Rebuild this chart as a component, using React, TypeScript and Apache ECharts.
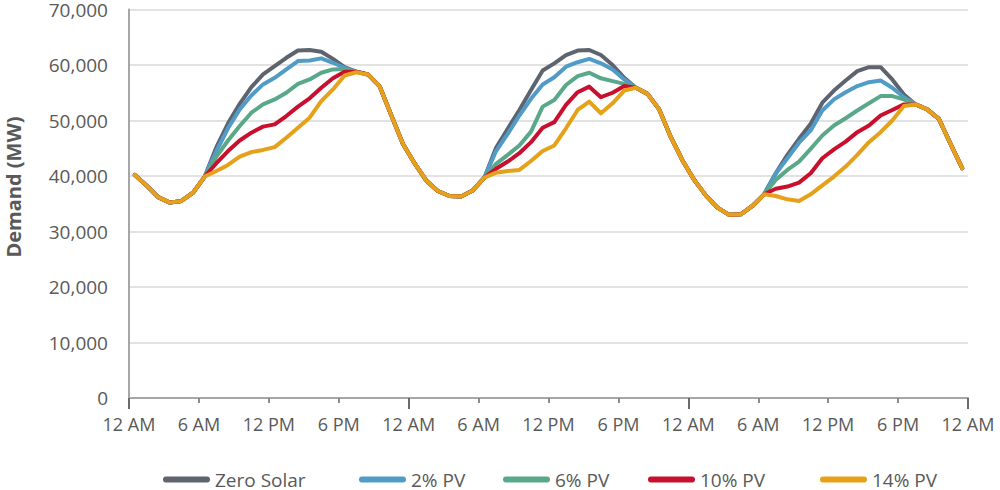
import React, { useEffect, useRef } from "react";
import * as echarts from "echarts";

// hourly demand (MW), three days, one value per hour (plotted at mid-hour)
const tickLabels = ["12 AM", "6 AM", "12 PM", "6 PM"];
const seriesNames = ["Zero Solar", "2% PV", "6% PV", "10% PV", "14% PV"];

const zeroSolar = [
  40200, 38300, 36200, 35200, 35500, 37000, 39900,
  45200, 49500, 53000, 56000, 58300, 59800, 61300, 62600, 62700, 62400,
  61100, 59600,
  58800, 58300, 56200, 51000, 45800, 42300, 39200, 37300, 36400, 36300, 37400, 39700,
  45100, 48500, 51900, 55500, 59000, 60300, 61800, 62600, 62700, 61800, 60000, 57700, 55900,
  54800, 52000, 47000, 42800,
  39300, 36500, 34300, 33000, 33100, 34600, 36700,
  40500, 43800, 46700, 49400, 53200, 55400, 57200, 58900, 59600, 59600, 57400, 54700,
  52900, 52000, 50300, 45800, 41400,
];
const pv2 = [
  40200, 38300, 36200, 35200, 35500, 37000, 39900,
  44500, 48600, 52000, 54500, 56500, 57700, 59200, 60700, 60800, 61200,
  60400, 59500,
  58800, 58300, 56200, 51000, 45800, 42300, 39200, 37300, 36400, 36300, 37400, 39700,
  44500, 47600, 50900, 53900, 56500, 57800, 59700, 60500, 61100, 60300, 59200, 57400, 55900,
  54800, 52000, 47000, 42800,
  39300, 36500, 34300, 33000, 33100, 34600, 36700,
  40400, 43200, 46000, 48200, 51800, 53800, 55100, 56200, 56900, 57200, 55900, 54200,
  52900, 52000, 50300, 45800, 41400,
];
const pv6 = [
  40200, 38300, 36200, 35200, 35500, 37000, 39900,
  43500, 46400, 49000, 51400, 52900, 53800, 55000, 56600, 57400, 58600,
  59200, 59300,
  58800, 58300, 56200, 51000, 45800, 42300, 39200, 37300, 36400, 36300, 37400, 39700,
  42200, 43800, 45500, 48000, 52500, 53700, 56400, 58000, 58600, 57600, 57100, 56600, 55900,
  54800, 52000, 47000, 42800,
  39300, 36500, 34300, 33000, 33100, 34600, 36700,
  39300, 41100, 42600, 44900, 47300, 49100, 50400, 51800, 53100, 54400, 54400, 53800,
  52900, 52000, 50300, 45800, 41400,
];
const pv10 = [
  40200, 38300, 36200, 35200, 35500, 37000, 39900,
  42300, 44500, 46400, 47800, 48900, 49300, 50800, 52500, 54000, 55900,
  57600, 58800,
  58800, 58300, 56200, 51000, 45800, 42300, 39200, 37300, 36400, 36300, 37400, 39700,
  41300, 42600, 44100, 46100, 48700, 49700, 52800, 55100, 56100, 54200, 55000, 56200, 55900,
  54800, 52000, 47000, 42800,
  39300, 36500, 34300, 33000, 33100, 34600, 36700,
  37700, 38100, 38800, 40500, 43200, 44800, 46200, 47900, 49100, 50900, 51900, 52900,
  52900, 52000, 50300, 45800, 41400,
];
const pv14 = [
  40200, 38300, 36200, 35200, 35500, 37000, 39900,
  40900, 42000, 43500, 44300, 44700, 45200, 46900, 48700, 50500, 53500,
  55600, 58100,
  58700, 58300, 56200, 51000, 45800, 42300, 39200, 37300, 36400, 36300, 37400, 39700,
  40600, 40900, 41100, 42700, 44500, 45500, 48600, 51900, 53400, 51300, 53100, 55400, 55900,
  54800, 52000, 47000, 42800,
  39300, 36500, 34300, 33000, 33100, 34600, 36700,
  36400, 35800, 35500, 36700, 38300, 39900, 41700, 43800, 46100, 47900, 50000, 52600,
  52900, 52000, 50300, 45800, 41400,
];

const seriesData = [zeroSolar, pv2, pv6, pv10, pv14];
const colors = ["#5d646f", "#519bc8", "#5aa88a", "#c8102e", "#e5a11a"];
const legendLeft = [163, 359, 503, 648, 820];

const FONT = "'Open Sans', sans-serif";
const TEXT = "#595959";

export default function App() {
  const ref = useRef<HTMLDivElement>(null);

  useEffect(() => {
    if (!ref.current) return;
    const chart = echarts.init(ref.current, null, { renderer: "svg" });

    chart.setOption({
      animation: false,
      backgroundColor: "#ffffff",
      grid: { left: 129, right: 32, top: 6, bottom: 92 },
      xAxis: [
        {
          type: "value",
          min: 0,
          max: 72,
          interval: 6,
          position: "bottom",
          axisLine: { show: true, lineStyle: { color: "#a6a6a6", width: 2 } },
          axisTick: { show: true, length: 5, lineStyle: { color: "#8c8c8c", width: 2 } },
          axisLabel: {
            margin: 17,
            color: TEXT,
            fontFamily: FONT,
            fontSize: 18,
            formatter: (v: number) => tickLabels[Math.round(v / 6) % 4],
          },
          splitLine: { show: false },
        },
        // longer ticks at midnight
        {
          type: "value",
          min: 0,
          max: 72,
          interval: 24,
          position: "bottom",
          axisLine: { show: false },
          axisTick: { show: true, length: 11, lineStyle: { color: "#6b6b6b", width: 2 } },
          axisLabel: { show: false },
          splitLine: { show: false },
        },
      ],
      yAxis: {
        type: "value",
        min: 0,
        max: 70000,
        interval: 10000,
        axisLine: { show: true, lineStyle: { color: "#a6a6a6", width: 2 } },
        axisTick: { show: false },
        axisLabel: {
          margin: 21,
          color: TEXT,
          fontFamily: FONT,
          fontSize: 19,
          lineHeight: 19,
          formatter: (v: number) => v.toLocaleString("en-US"),
        },
        splitLine: { lineStyle: { color: "#d9d9d9", width: 1.5 } },
      },
      legend: seriesNames.map((name, i) => ({
        data: [name],
        left: legendLeft[i],
        top: 470,
        padding: 0,
        selectedMode: false,
        itemWidth: 47,
        itemHeight: 6,
        icon: "path://M3,0H45A3,3,0,0,1,45,6H3A3,3,0,0,1,3,0Z",
        itemStyle: { borderWidth: 0 },
        textStyle: { color: TEXT, fontFamily: FONT, fontSize: 19, lineHeight: 19 },
      })),
      graphic: [
        {
          type: "text",
          x: 13,
          y: 187,
          rotation: Math.PI / 2,
          style: {
            text: "Demand (MW)",
            fontFamily: FONT,
            fontSize: 20,
            fontWeight: "bold",
            fill: TEXT,
            align: "center",
            verticalAlign: "middle",
          },
        },
      ],
      series: seriesData.map((d, i) => ({
        name: seriesNames[i],
        type: "line",
        xAxisIndex: 0,
        data: d.map((v, h) => [h + 0.5, v]),
        symbol: "none",
        itemStyle: { color: colors[i] },
        lineStyle: { color: colors[i], width: 4, cap: "round", join: "round" },
        z: 2 + i,
      })),
    });

    return () => chart.dispose();
  }, []);

  return (
    <div
      ref={ref}
      style={{ position: "fixed", left: 0, top: 0, width: 1000, height: 490 }}
    />
  );
}
